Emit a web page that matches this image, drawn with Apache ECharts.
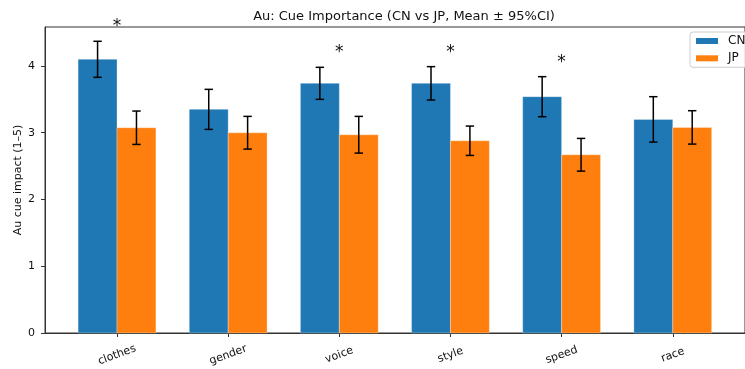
<!DOCTYPE html>
<html><head><meta charset="utf-8">
<script src="https://cdn.jsdelivr.net/npm/echarts@6/dist/echarts.min.js"></script>
<style>html,body{margin:0;padding:0;background:#fff}#c{width:745px;height:369px}</style>
</head><body><div id="c"></div>
<script>
const categories = ['clothes','gender','voice','style','speed','race'];
const cnMean = [4.10, 3.35, 3.74, 3.74, 3.54, 3.20];
const cnCI   = [0.27, 0.30, 0.24, 0.25, 0.30, 0.34];
const jpMean = [3.075, 3.00, 2.97, 2.88, 2.67, 3.08];
const jpCI   = [0.25, 0.245, 0.275, 0.22, 0.245, 0.25];
const significant = [1, 0, 1, 1, 1, 0];
const yTicks = [0, 1, 2, 3, 4];
const xTicks = categories.map((c, i) => i);

const FONT = 'DejaVu Sans';
const BAR_W = 0.35;

function barRender(offset, color) {
  return function (params, api) {
    const i = api.value(0), m = api.value(1), ci = api.value(2);
    const base = api.coord([i + offset, 0]);
    const top = api.coord([i + offset, m]);
    const w = api.size([BAR_W, 0])[0];
    const eT = api.coord([i + offset, m + ci]);
    const eB = api.coord([i + offset, m - ci]);
    const cap = 4.2;
    return {
      type: 'group',
      children: [
        { type: 'rect', shape: { x: base[0] - w / 2, y: top[1], width: w, height: base[1] - top[1] },
          style: { fill: color, stroke: 'rgba(255,255,255,0.3)', lineWidth: 1 } },
        { type: 'line', shape: { x1: eT[0], y1: eT[1], x2: eB[0], y2: eB[1] }, style: { stroke: '#000', lineWidth: 1.5 } },
        { type: 'line', shape: { x1: eT[0] - cap, y1: eT[1], x2: eT[0] + cap, y2: eT[1] }, style: { stroke: '#000', lineWidth: 1.5 } },
        { type: 'line', shape: { x1: eB[0] - cap, y1: eB[1], x2: eB[0] + cap, y2: eB[1] }, style: { stroke: '#000', lineWidth: 1.5 } }
      ]
    };
  };
}

const sigData = [];
significant.forEach((s, i) => {
  if (s) sigData.push([i, Math.max(cnMean[i] + cnCI[i], jpMean[i] + jpCI[i])]);
});

const chart = echarts.init(document.getElementById('c'), null, { renderer: 'canvas' });
chart.setOption({
  animation: false,
  textStyle: { fontFamily: FONT },
  title: {
    text: 'Au: Cue Importance (CN vs JP, Mean ± 95%CI)',
    left: 399, top: 5, textAlign: 'center',
    textStyle: { fontFamily: FONT, fontSize: 13, fontWeight: 'normal', color: '#111' }
  },
  legend: {
    orient: 'vertical', left: 690, top: 32,
    itemWidth: 22, itemHeight: 6, itemGap: 5.3,
    padding: [3, 30, 3, 6],
    borderColor: '#ccc', borderWidth: 1, borderRadius: 3,
    backgroundColor: 'rgba(255,255,255,0.8)',
    textStyle: { fontFamily: FONT, fontSize: 12, lineHeight: 12, color: '#111', padding: [0, 0, 0, 5] },
    data: [{ name: 'CN', icon: 'rect' }, { name: 'JP', icon: 'rect' }]
  },
  grid: { left: 45, top: 27, width: 709, height: 306, show: true, borderColor: '#333', borderWidth: 1, backgroundColor: 'transparent' },
  xAxis: {
    type: 'value', min: -0.648, max: 5.65,
    splitLine: { show: false },
    axisLine: { show: true, onZero: false, lineStyle: { color: '#333', width: 1 } },
    axisTick: { show: true, customValues: xTicks, length: 4, lineStyle: { color: '#333' } },
    axisLabel: {
      customValues: xTicks, rotate: 20, margin: 22, align: 'center', verticalAlign: 'middle',
      formatter: v => categories[Math.round(v)],
      fontFamily: FONT, fontSize: 11, color: '#111'
    }
  },
  yAxis: {
    type: 'value', min: 0, max: 4.584,
    name: 'Au cue impact (1–5)', nameLocation: 'middle', nameGap: 21, nameRotate: 90,
    nameMoveOverlap: false,
    nameTextStyle: { fontFamily: FONT, fontSize: 11, color: '#111' },
    splitLine: { show: false },
    axisLine: { show: true, onZero: false, lineStyle: { color: '#333', width: 1 } },
    axisTick: { show: true, customValues: yTicks, length: 4, lineStyle: { color: '#333' } },
    axisLabel: { customValues: yTicks, margin: 10, fontFamily: FONT, fontSize: 11, color: '#111' }
  },
  series: [
    { name: 'CN', type: 'custom', itemStyle: { color: '#1f77b4' }, clip: false,
      renderItem: barRender(-BAR_W / 2, '#1f77b4'),
      data: categories.map((c, i) => [i, cnMean[i], cnCI[i]]) },
    { name: 'JP', type: 'custom', itemStyle: { color: '#ff7f0e' }, clip: false,
      renderItem: barRender(BAR_W / 2, '#ff7f0e'),
      data: categories.map((c, i) => [i, jpMean[i], jpCI[i]]) },
    { name: 'sig', type: 'custom', clip: false, silent: true,
      renderItem: function (params, api) {
        const p = api.coord([api.value(0), api.value(1)]);
        return { type: 'text', x: p[0], y: p[1] - 6,
          style: { text: '*', fontFamily: FONT, fontSize: 17, fill: '#111', align: 'center', verticalAlign: 'bottom' } };
      },
      data: sigData }
  ]
});
</script></body></html>
